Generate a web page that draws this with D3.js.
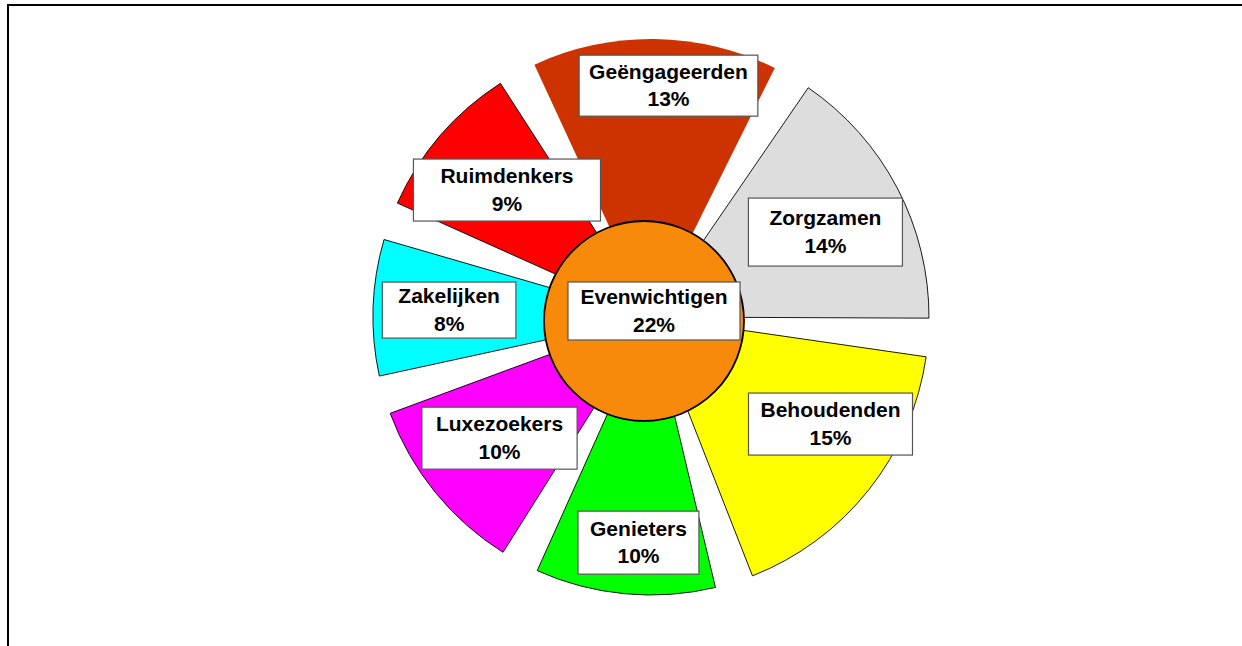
<!DOCTYPE html>
<html lang="nl">
<head>
  <meta charset="UTF-8">
  <title>Segmenten</title>
  <script src="https://d3js.org/d3.v7.min.js"></script>
  <style>
    body { margin: 0; background: #fff; }
    .lbl { font-family: 'Liberation Sans', Arial, sans-serif; font-size: 21px; font-weight: bold; fill: #000; }
  </style>
</head>
<body>
  <svg id="chart" width="1242" height="646"></svg>
  <script>
    // data
    const categories = ["Geëngageerden", "Zorgzamen", "Behoudenden", "Genieters", "Luxezoekers", "Zakelijken", "Ruimdenkers"];
    const values = [13, 14, 15, 10, 10, 8, 9];
    const centerCategory = "Evenwichtigen";
    const centerValue = 22;

    // styles / layout
    const colors = ["#cc3300", "#dddddd", "#ffff00", "#00ff00", "#ff00ff", "#00ffff", "#ff0000"];
    const strokes = ["none", "#000", "#000", "#000", "#000", "#000", "#000"];
    const labelRadius = [232, 194, 209, 226, 194, 202, 192];
    const labelTurn = [3.5, 1.7, -7.6, -2.2, 0.4, 0, 0.7];   // degrees, nudges label off the bisector
    const labelPad = [10, 21, 12, 12, 14, 16, 27];
    const labelH = [61, 68, 62, 63, 62, 56, 62];

    const pieCx = 651, pieCy = 317, outerR = 278;
    const circCx = 644, circCy = 321, circR = 100;
    const startDeg = -28.8, gapDeg = 8;
    const rad = Math.PI / 180;

    const svg = d3.select("#chart");

    // frame
    svg.append("rect")
      .attr("x", 8).attr("y", 5)
      .attr("width", 1400).attr("height", 800)
      .attr("fill", "none").attr("stroke", "#000").attr("stroke-width", 2);

    const dataset = categories.map((c, i) => ({ name: c, value: values[i], i }));

    const pie = d3.pie()
      .sort(null)
      .value(d => d.value)
      .startAngle(startDeg * rad)
      .endAngle(startDeg * rad + 2 * Math.PI);

    const arcs = pie(dataset).map(a => ({
      ...a,
      startAngle: a.startAngle + gapDeg * rad / 2,
      endAngle: a.endAngle - gapDeg * rad / 2
    }));

    const arc = d3.arc().innerRadius(0).outerRadius(outerR);

    const pieG = svg.append("g").attr("transform", `translate(${pieCx},${pieCy})`);
    pieG.selectAll("path")
      .data(arcs)
      .enter()
      .append("path")
      .attr("d", arc)
      .attr("fill", d => colors[d.data.i])
      .attr("stroke", d => strokes[d.data.i])
      .attr("stroke-width", 0.9);

    // centre circle
    svg.append("path")
      .attr("transform", `translate(${circCx},${circCy})`)
      .attr("d", d3.arc().innerRadius(0).outerRadius(circR)({ startAngle: 0, endAngle: 2 * Math.PI }))
      .attr("fill", "#f7890b")
      .attr("stroke", "#000")
      .attr("stroke-width", 1.8);

    function addLabel(x, y, name, pct, pad, h) {
      const g = svg.append("g").attr("transform", `translate(${x},${y})`);
      const box = g.append("rect");
      const t1 = g.append("text").attr("class", "lbl").attr("text-anchor", "middle").attr("y", -7).text(name);
      g.append("text").attr("class", "lbl").attr("text-anchor", "middle").attr("y", 20.5).text(pct + "%");
      const w = t1.node().getComputedTextLength() + 2 * pad;
      box.attr("x", -w / 2).attr("y", -h / 2)
        .attr("width", w).attr("height", h)
        .attr("fill", "#fff").attr("stroke", "#555").attr("stroke-width", 1.2);
    }

    arcs.forEach(d => {
      const r = labelRadius[d.data.i];
      const turn = labelTurn[d.data.i] * rad;
      const shifted = { startAngle: d.startAngle + turn, endAngle: d.endAngle + turn };
      const [lx, ly] = d3.arc().innerRadius(r).outerRadius(r).centroid(shifted);
      addLabel(pieCx + lx, pieCy + ly, d.data.name, d.data.value, labelPad[d.data.i], labelH[d.data.i]);
    });

    addLabel(circCx + 10, circCy - 10, centerCategory, centerValue, 12.5, 58);
  </script>
</body>
</html>
